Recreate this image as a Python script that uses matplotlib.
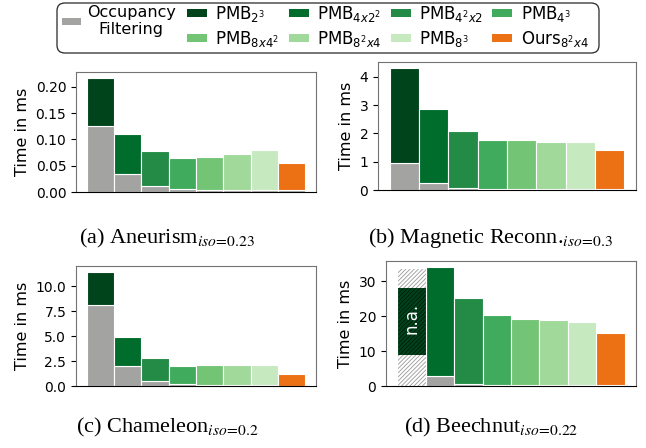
import numpy as np
import matplotlib
matplotlib.use("Agg")
import matplotlib.pyplot as plt
from matplotlib.patches import Patch, FancyBboxPatch

W, H = 646, 448
plt.rcParams['mathtext.fontset'] = 'dejavusans'
plt.rcParams['hatch.linewidth'] = 0.6

# -----------------------------------------------------------
# data (ms)
# -----------------------------------------------------------
methods = [r'PMB$_{2^3}$', r'PMB$_{4x2^2}$', r'PMB$_{4^2x2}$', r'PMB$_{4^3}$',
           r'PMB$_{8x4^2}$', r'PMB$_{8^2x4}$', r'PMB$_{8^3}$', r'Ours$_{8^2x4}$']
colors = ['#00441b', '#006d2c', '#238b45', '#41ab5d',
          '#74c476', '#a1d99b', '#c7e9c0', '#ec7014']
occ_color = '#a3a4a1'

aneurism_occ = [0.125, 0.034, 0.011, 0.006, 0.004, 0.004, 0.004, 0.004]
aneurism_total = [0.217, 0.111, 0.078, 0.065, 0.067, 0.072, 0.079, 0.056]

magnetic_occ = [0.95, 0.24, 0.07, 0.04, 0.03, 0.03, 0.03, 0.03]
magnetic_total = [4.31, 2.87, 2.07, 1.77, 1.78, 1.68, 1.70, 1.42]

chameleon_occ = [8.14, 2.03, 0.51, 0.17, 0.07, 0.06, 0.06, 0.05]
chameleon_total = [11.45, 4.86, 2.77, 2.03, 2.06, 2.06, 2.06, 1.25]

# first Beechnut bar is not available (drawn hatched)
beechnut_occ = [2.8, 0.67, 0.3, 0.2, 0.2, 0.2, 0.2]
beechnut_total = [34.1, 25.07, 20.4, 19.3, 19.0, 18.4, 15.2]
beechnut_na = [9.0, 28.2, 33.85]   # dark segment bottom, top, hatch top

captions = [r'(a) Aneurism$_{iso\!=\!0.23}$',
            r'(b) Magnetic Reconn.$_{iso\!=\!0.3}$',
            r'(c) Chameleon$_{iso\!=\!0.2}$',
            r'(d) Beechnut$_{iso\!=\!0.22}$']

fig = plt.figure(figsize=(W / 100, H / 100), dpi=100)


def px_rect(x0, y0, x1, y1):
    return [x0 / W, 1 - y1 / H, (x1 - x0) / W, (y1 - y0) / H]


def style(ax, yticks):
    ax.set_yticks(yticks)
    ax.set_xticks([])
    ax.tick_params(axis='y', labelsize=10, length=3.5, width=0.8)
    ax.set_ylabel("Time in ms", fontsize=11.5)
    for s in ['left', 'top', 'right']:
        ax.spines[s].set_color('0.45')
    ax.spines['bottom'].set_color('k')


def panel(rect, occ, total, yticks, x0=0):
    ax = fig.add_axes(rect)
    x = np.arange(x0, 8)
    occ = np.array(occ)
    total = np.array(total)
    ax.bar(x, occ, width=1, color=occ_color, edgecolor='white', linewidth=0.8)
    ax.bar(x, total - occ, bottom=occ, width=1, color=colors[x0:],
           edgecolor='white', linewidth=0.8)
    style(ax, yticks)
    return ax


panel(px_rect(76, 72, 316, 192), aneurism_occ, aneurism_total,
      [0, 0.05, 0.10, 0.15, 0.20])
panel(px_rect(378, 62, 636, 190), magnetic_occ, magnetic_total, [0, 1, 2, 3, 4])
panel(px_rect(76, 266, 316, 386), chameleon_occ, chameleon_total,
      [0, 2.5, 5.0, 7.5, 10.0])
ax_d = panel(px_rect(386, 261, 636, 386), beechnut_occ, beechnut_total,
             [0, 10, 20, 30], x0=1)

# n.a. bar
lo, hi, top = beechnut_na
ax_d.bar(0, top, width=1, color='white', edgecolor='0.6', linewidth=0,
         hatch='////////')
ax_d.bar(0, hi - lo, bottom=lo, width=1, color=colors[0], edgecolor='#001a0a',
         linewidth=0, hatch='////////')
ax_d.bar(0, top, width=1, fill=False, edgecolor='white', linewidth=0.8)
ax_d.text(0, (lo + hi) / 2 + 0.8, 'n.a.', rotation=90, color='white',
          ha='center', va='center', fontsize=12)
ax_d.set_xlim(-0.9, 7.9)

# captions
cap_pos = [(167, 243), (490, 243), (167, 432), (491, 432)]
for (cx, cy), txt in zip(cap_pos, captions):
    fig.text(cx / W, 1 - cy / H, txt, ha='center', va='baseline', fontsize=16,
             family='Liberation Serif', math_fontfamily='stix')

# legend: occupancy column + 4 columns of methods, inside one frame
legA = fig.legend([Patch(facecolor=occ_color, edgecolor='none')],
                  ['Occupancy\nFiltering'], loc='upper left',
                  bbox_to_anchor=(62 / W, 1 - 5 / H), frameon=False,
                  fontsize=11.5, handlelength=1.2, handleheight=0.35,
                  handletextpad=0.35, borderpad=0, borderaxespad=0)
legA.get_texts()[0].set_multialignment('center')

order = [0, 4, 1, 5, 2, 6, 3, 7]
handles = [Patch(facecolor=colors[i], edgecolor='none') for i in order]
fig.legend(handles, [methods[i] for i in order], loc='upper left',
           bbox_to_anchor=(187 / W, 1 - 4 / H), ncol=4, frameon=False,
           fontsize=12, handlelength=1.2, handleheight=0.35,
           handletextpad=0.5, columnspacing=0.55, labelspacing=0.3,
           borderpad=0, borderaxespad=0)

frame = FancyBboxPatch((57 / W, 1 - 53 / H), (599 - 57) / W, 50 / H,
                       boxstyle='round,pad=0,rounding_size=0.012',
                       mutation_aspect=W / H, transform=fig.transFigure,
                       fill=False, edgecolor='0.15', linewidth=0.9)
fig.patches.append(frame)

fig.savefig("out.png", dpi=100)
